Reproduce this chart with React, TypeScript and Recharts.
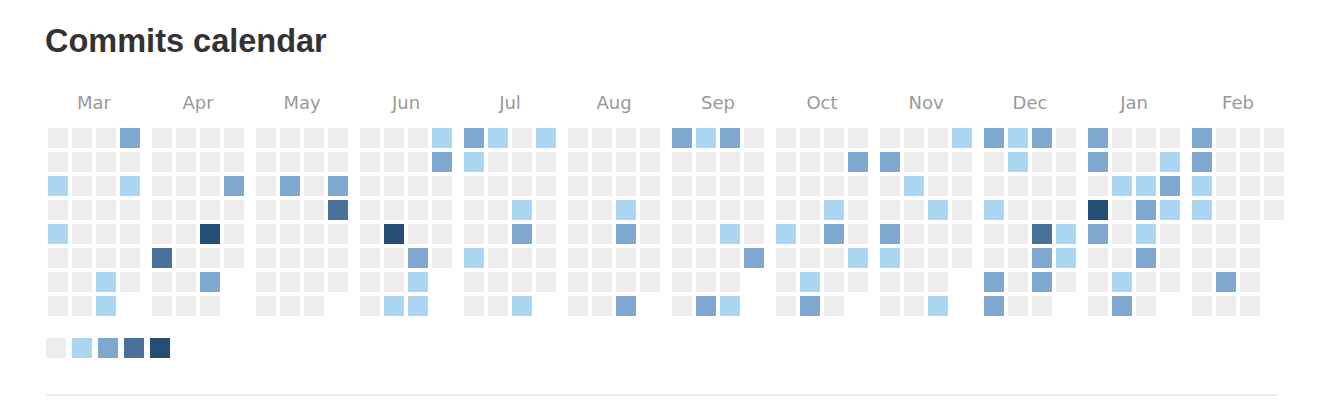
import { Scatter, ScatterChart, XAxis, YAxis, ZAxis } from "recharts";

// levels per day (0 = no commits, 4 = most), days fill each month block column by column
const MONTHS = ["Mar", "Apr", "May", "Jun", "Jul", "Aug", "Sep", "Oct", "Nov", "Dec", "Jan", "Feb"];

const MAR = [0, 0, 1, 0, 1, 0, 0, 0, 0, 0, 0, 0, 0, 0, 0, 0, 0, 0, 0, 0, 0, 0, 1, 1, 2, 0, 1, 0, 0, 0, 0];
const APR = [0, 0, 0, 0, 0, 3, 0, 0, 0, 0, 0, 0, 0, 0, 0, 0, 0, 0, 0, 0, 4, 0, 2, 0, 0, 0, 2, 0, 0, 0];
const MAY = [0, 0, 0, 0, 0, 0, 0, 0, 0, 0, 2, 0, 0, 0, 0, 0, 0, 0, 0, 0, 0, 0, 0, 0, 0, 0, 2, 3, 0, 0, 0];
const JUN = [0, 0, 0, 0, 0, 0, 0, 0, 0, 0, 0, 0, 4, 0, 0, 1, 0, 0, 0, 0, 0, 2, 1, 1, 1, 2, 0, 0, 0, 0];
const JUL = [2, 1, 0, 0, 0, 1, 0, 0, 1, 0, 0, 0, 0, 0, 0, 0, 0, 0, 0, 1, 2, 0, 0, 1, 1, 0, 0, 0, 0, 0, 0];
const AUG = [0, 0, 0, 0, 0, 0, 0, 0, 0, 0, 0, 0, 0, 0, 0, 0, 0, 0, 0, 1, 2, 0, 0, 2, 0, 0, 0, 0, 0, 0, 0];
const SEP = [2, 0, 0, 0, 0, 0, 0, 0, 1, 0, 0, 0, 0, 0, 0, 2, 2, 0, 0, 0, 1, 0, 0, 1, 0, 0, 0, 0, 0, 2];
const OCT = [0, 0, 0, 0, 1, 0, 0, 0, 0, 0, 0, 0, 0, 0, 1, 2, 0, 0, 0, 1, 2, 0, 0, 0, 0, 2, 0, 0, 0, 1, 0];
const NOV = [0, 2, 0, 0, 2, 1, 0, 0, 0, 0, 1, 0, 0, 0, 0, 0, 0, 0, 0, 1, 0, 0, 0, 1, 1, 0, 0, 0, 0, 0];
const DEC = [2, 0, 0, 1, 0, 0, 2, 2, 1, 1, 0, 0, 0, 0, 0, 0, 2, 0, 0, 0, 3, 2, 2, 0, 0, 0, 0, 0, 1, 1, 0];
const JAN = [2, 2, 0, 4, 2, 0, 0, 0, 0, 0, 1, 0, 0, 0, 1, 2, 0, 0, 1, 2, 1, 2, 0, 0, 0, 1, 2, 1, 0, 0, 0];
const FEB = [2, 2, 1, 1, 0, 0, 0, 0, 0, 0, 0, 0, 0, 0, 2, 0, 0, 0, 0, 0, 0, 0, 0, 0, 0, 0, 0, 0];

const MONTH_DAYS = [MAR, APR, MAY, JUN, JUL, AUG, SEP, OCT, NOV, DEC, JAN, FEB];

const LEVEL_COLORS = ["#ededed", "#acd5f2", "#7fa8d1", "#49729b", "#254e77"];

const ROWS = 8;
const BLOCK = 4 + 1 / 3; // 4 columns + small gap between months

const cells = MONTH_DAYS.flatMap((days, m) =>
  days.map((level, d) => ({
    x: m * BLOCK + Math.floor(d / ROWS),
    y: d % ROWS,
    level,
  }))
);

const monthTicks = MONTHS.map((_, m) => m * BLOCK + 1.5);

function Cell(props: any) {
  const { cx, cy, payload } = props;
  if (cx == null || cy == null) return null;
  return <rect x={cx - 10} y={cy - 10} width={20} height={20} fill={LEVEL_COLORS[payload.level]} />;
}

export default function App() {
  return (
    <div style={{ position: "relative", width: 1314, height: 390, fontFamily: "'Liberation Sans', Arial, sans-serif" }}>
      <div
        style={{
          position: "absolute",
          left: 37,
          top: 17,
          fontSize: 32.5,
          lineHeight: "32px",
          fontWeight: 700,
          color: "#333",
          whiteSpace: "nowrap",
        }}
      >
        Commits calendar
      </div>
      <div style={{ position: "absolute", left: 0, top: 72 }}>
        <ScatterChart width={1314} height={238} margin={{ top: 16, right: 36, bottom: 0, left: 38 }}>
          <XAxis
            type="number"
            dataKey="x"
            orientation="top"
            domain={[-0.5, 11 * BLOCK + 3.5]}
            ticks={monthTicks}
            interval={0}
            tickFormatter={(v: number) => MONTHS[Math.round((v - 1.5) / BLOCK)]}
            axisLine={false}
            tickLine={false}
            tickSize={0}
            tickMargin={17}
            height={30}
            allowDataOverflow
            tick={{ fill: "#999", fontSize: 18, fontFamily: "'DejaVu Sans', sans-serif" }}
          />
          <YAxis type="number" dataKey="y" domain={[-0.5, 7.5]} reversed hide allowDataOverflow />
          <ZAxis range={[400, 400]} />
          <Scatter data={cells} shape={<Cell />} isAnimationActive={false} />
        </ScatterChart>
      </div>
      <div style={{ position: "absolute", left: 38, top: 330, display: "flex", gap: 6 }}>
        {LEVEL_COLORS.map((c) => (
          <div key={c} style={{ width: 20, height: 20, background: c }} />
        ))}
      </div>
      <div style={{ position: "absolute", left: 38, top: 386, width: 1232, height: 2, background: "#eee" }} />
    </div>
  );
}
